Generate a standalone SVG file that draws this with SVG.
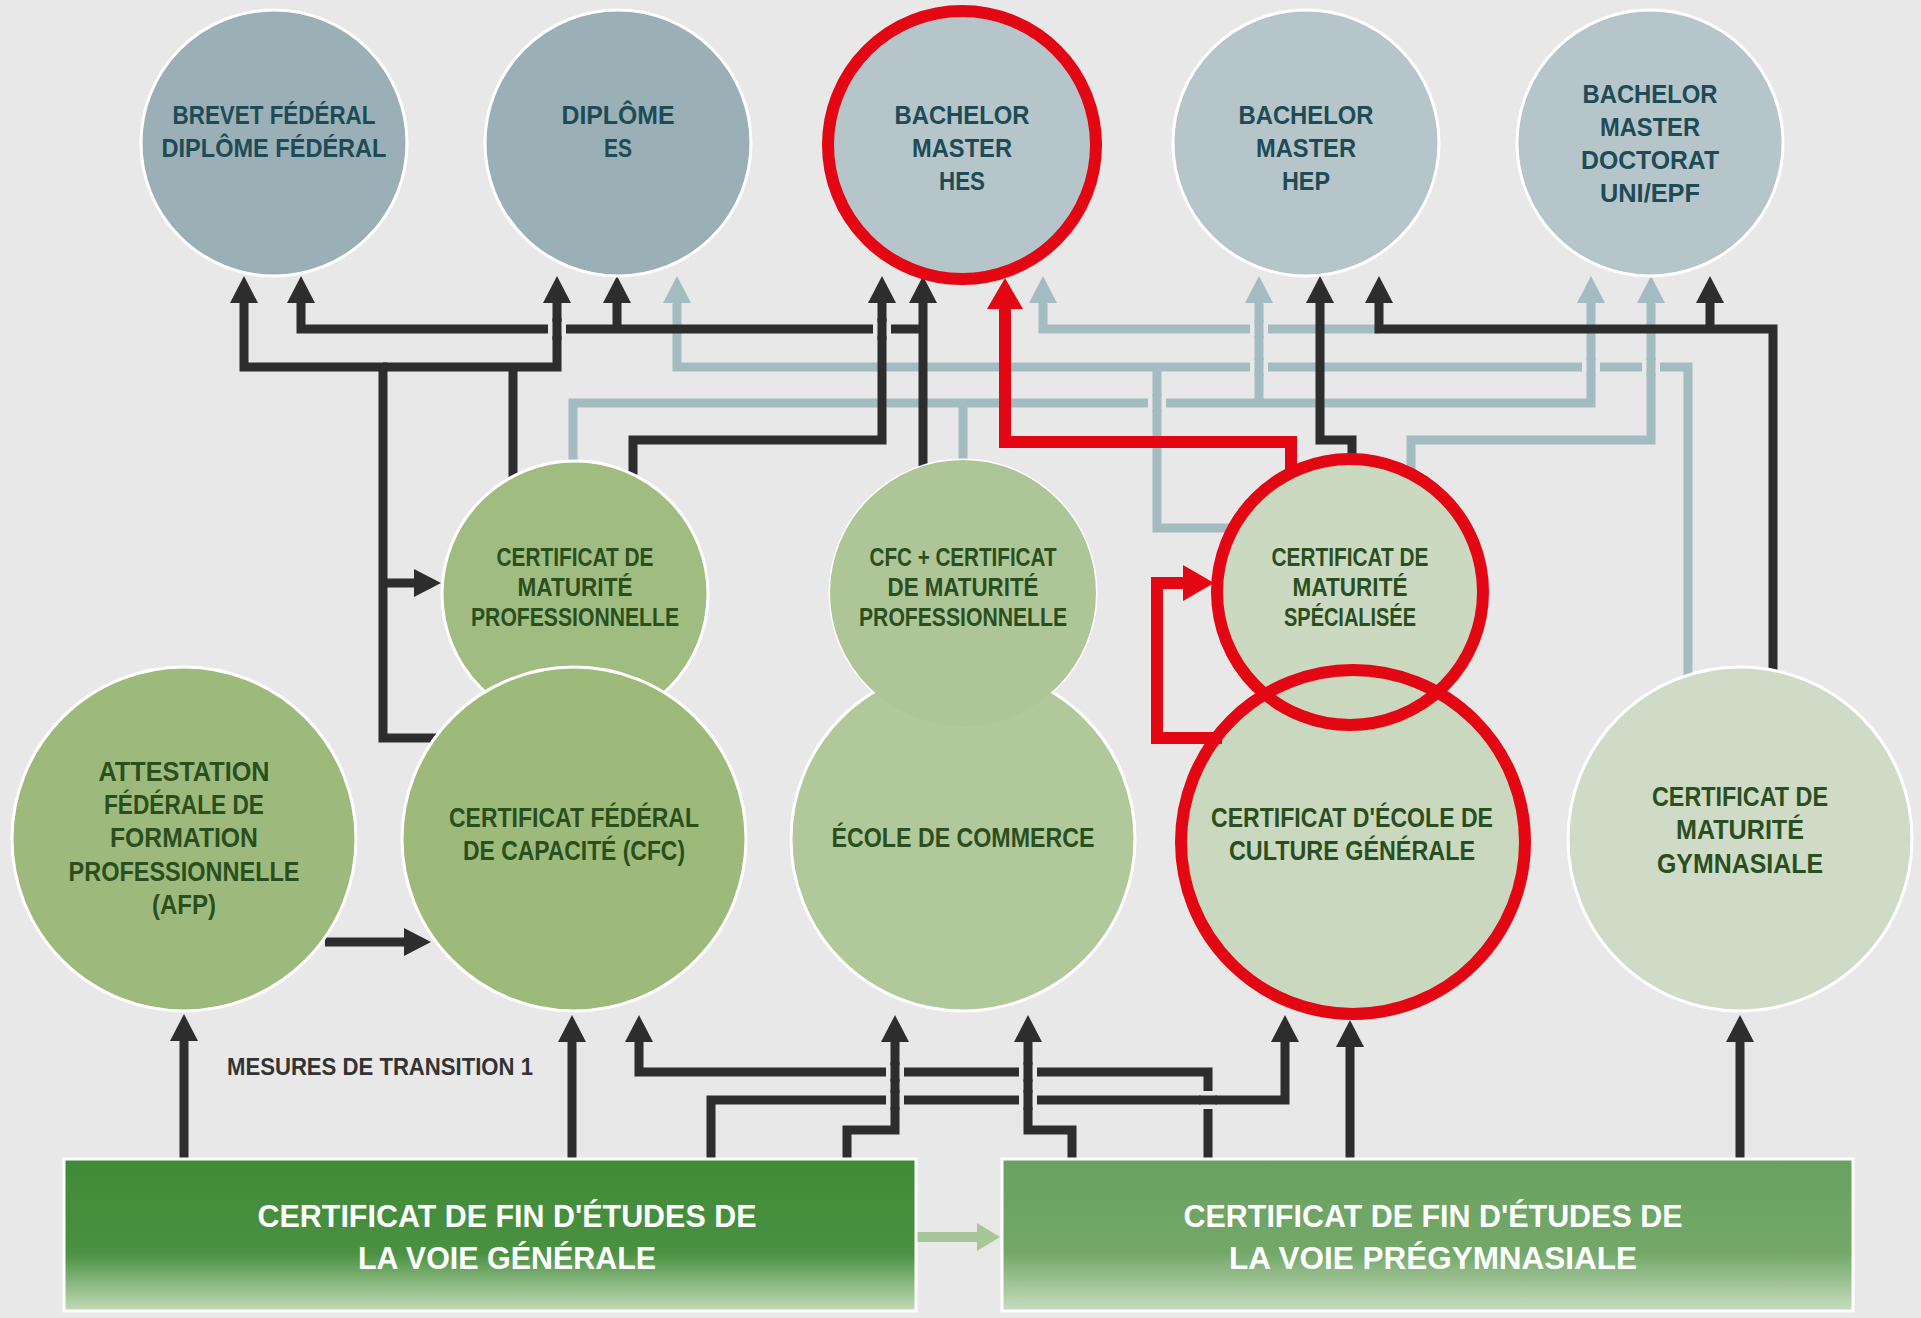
<svg xmlns="http://www.w3.org/2000/svg" width="1921" height="1318" viewBox="0 0 1921 1318">
<defs>
<style>
text{font-family:"Liberation Sans","Open Sans",sans-serif;font-weight:700;text-anchor:middle}
.tt{font-size:25px;fill:#1d4b56}
.tm{font-size:25px;fill:#2a4f1f}
.tl{font-size:27px;fill:#2a4f1f}
.tb{font-size:32px;fill:#ffffff}
.tx{font-size:23px;fill:#333333}
.dk{fill:none;stroke:#2d2d2d;stroke-width:9;stroke-linejoin:miter}
.dka{fill:none;stroke:#2d2d2d;stroke-width:9;marker-end:url(#ad)}
.lt{fill:none;stroke:#a3bcc2;stroke-width:9}
.lta{fill:none;stroke:#a3bcc2;stroke-width:9;marker-end:url(#al)}
.rd{fill:none;stroke:#e30613;stroke-width:12}
.rda{fill:none;stroke:#e30613;stroke-width:12;marker-end:url(#ar)}
.ring{fill:none;stroke:#e30613;stroke-width:12}
.bd{stroke:#ffffff;stroke-width:3}
.gap{fill:#e8e8e8}
</style>
<marker id="ad" markerUnits="userSpaceOnUse" viewBox="0 0 28 28" markerWidth="28" markerHeight="28" refX="0" refY="14" orient="auto"><path d="M0,0 L27,14 L0,28Z" fill="#2d2d2d"/></marker>
<marker id="al" markerUnits="userSpaceOnUse" viewBox="0 0 28 28" markerWidth="28" markerHeight="28" refX="0" refY="14" orient="auto"><path d="M0,0 L27,14 L0,28Z" fill="#a3bcc2"/></marker>
<marker id="ar" markerUnits="userSpaceOnUse" viewBox="0 0 31 36" markerWidth="31" markerHeight="36" refX="0" refY="18" orient="auto"><path d="M0,0 L31,18 L0,36Z" fill="#e30613"/></marker>
<marker id="ag" markerUnits="userSpaceOnUse" viewBox="0 0 24 28" markerWidth="24" markerHeight="28" refX="0" refY="14" orient="auto"><path d="M0,0 L23,14 L0,28Z" fill="#a9c69b"/></marker>
<linearGradient id="gL" x1="0" y1="0" x2="0" y2="1"><stop offset="0" stop-color="#3f8a37"/><stop offset="0.62" stop-color="#4a9141"/><stop offset="1" stop-color="#c3dbb9"/></linearGradient>
<linearGradient id="gR" x1="0" y1="0" x2="0" y2="1"><stop offset="0" stop-color="#6aa160"/><stop offset="0.62" stop-color="#73a868"/><stop offset="1" stop-color="#c8ddc0"/></linearGradient>
</defs>
<rect width="1921" height="1318" fill="#e8e8e8"/>

<g id="connectors">
<path class="lta" d="M1379 329 H1043 V303"/>
<path class="lta" d="M1688 690 V367 H677 V303"/>
<path class="lt" d="M1157 367 V528 H1240"/>
<path class="lta" d="M573 490 V403 H1591 V303"/>
<path class="lt" d="M963 475 V403"/>
<path class="lta" d="M1259 403 V303"/>
<path class="lta" d="M1411 480 V440 H1651 V303"/>
<rect class="gap" x="1250" y="322" width="18" height="14"/><path class="lt" d="M1259 338 V320"/>
<rect class="gap" x="1250" y="360" width="18" height="14"/><path class="lt" d="M1259 376 V358"/>
<rect class="gap" x="1148" y="396" width="18" height="14"/><path class="lt" d="M1157 394 V412"/>
<rect class="gap" x="1582" y="360" width="18" height="14"/><path class="lt" d="M1591 376 V358"/>
<rect class="gap" x="1642" y="360" width="18" height="14"/><path class="lt" d="M1651 376 V358"/>
<path class="dka" d="M923 480 V303"/>
<path class="dka" d="M923 329 H301 V303"/>
<path class="dka" d="M617 329 V303"/>
<path class="dka" d="M445 738 H383 V367 H244 V303"/>
<path class="dka" d="M383 367 H557 V303"/>
<path class="dka" d="M383 583 H414"/>
<path class="dk" d="M513 490 V367"/>
<path class="dka" d="M633 490 V440 H882 V303"/>
<path class="dka" d="M1352 470 V440 H1320 V303"/>
<path class="dka" d="M1773 690 V329 H1379 V303"/>
<path class="dka" d="M1710 329 V303"/>
<rect class="gap" x="548" y="322" width="18" height="14"/><path class="dk" d="M557 340 V318"/>
<rect class="gap" x="873" y="322" width="18" height="14"/><path class="dk" d="M882 340 V318"/>
<path class="dka" d="M184 1165 V1041"/>
<path class="dka" d="M572 1165 V1042"/>
<path class="dka" d="M1350 1165 V1047"/>
<path class="dka" d="M1740 1165 V1042"/>
<path class="dka" d="M1208 1165 V1072 H639 V1042"/>
<path class="dka" d="M711 1165 V1100 H1285 V1042"/>
<rect class="gap" x="1201" y="1091" width="14" height="18"/><path class="dk" d="M1199 1100 H1217"/>
<path class="dka" d="M847 1165 V1130 H895 V1042"/>
<path class="dka" d="M1072 1165 V1130 H1028 V1042"/>
<rect class="gap" x="886" y="1065" width="18" height="14"/><path class="dk" d="M895 1082 V1062"/>
<rect class="gap" x="886" y="1093" width="18" height="14"/><path class="dk" d="M895 1110 V1090"/>
<rect class="gap" x="1019" y="1065" width="18" height="14"/><path class="dk" d="M1028 1082 V1062"/>
<rect class="gap" x="1019" y="1093" width="18" height="14"/><path class="dk" d="M1028 1110 V1090"/>
<path class="dka" d="M325 942 H404"/>
<path d="M916 1237 H977" fill="none" stroke="#a9c69b" stroke-width="10" marker-end="url(#ag)"/>
</g>

<g id="n-brevet"><circle class="bd" cx="274" cy="143" r="133" fill="#9ab0b6"/>
<text class="tt" x="274" y="124" textLength="203" lengthAdjust="spacingAndGlyphs">BREVET FÉDÉRAL</text>
<text class="tt" x="274" y="157" textLength="225" lengthAdjust="spacingAndGlyphs">DIPLÔME FÉDÉRAL</text></g>
<g id="n-diplome-es"><circle class="bd" cx="618" cy="143" r="133" fill="#9ab0b6"/>
<text class="tt" x="618" y="124" textLength="113" lengthAdjust="spacingAndGlyphs">DIPLÔME</text>
<text class="tt" x="618" y="157" textLength="28" lengthAdjust="spacingAndGlyphs">ES</text></g>
<g id="n-hes"><circle class="bd" cx="962" cy="143" r="133" fill="#b6c5ca"/>
<text class="tt" x="962" y="124" textLength="135" lengthAdjust="spacingAndGlyphs">BACHELOR</text>
<text class="tt" x="962" y="157" textLength="100" lengthAdjust="spacingAndGlyphs">MASTER</text>
<text class="tt" x="962" y="190" textLength="46" lengthAdjust="spacingAndGlyphs">HES</text></g>
<g id="n-hep"><circle class="bd" cx="1306" cy="143" r="133" fill="#b6c5ca"/>
<text class="tt" x="1306" y="124" textLength="135" lengthAdjust="spacingAndGlyphs">BACHELOR</text>
<text class="tt" x="1306" y="157" textLength="100" lengthAdjust="spacingAndGlyphs">MASTER</text>
<text class="tt" x="1306" y="190" textLength="48" lengthAdjust="spacingAndGlyphs">HEP</text></g>
<g id="n-uni"><circle class="bd" cx="1650" cy="143" r="133" fill="#b6c5ca"/>
<text class="tt" x="1650" y="103" textLength="135" lengthAdjust="spacingAndGlyphs">BACHELOR</text>
<text class="tt" x="1650" y="136" textLength="100" lengthAdjust="spacingAndGlyphs">MASTER</text>
<text class="tt" x="1650" y="169" textLength="138" lengthAdjust="spacingAndGlyphs">DOCTORAT</text>
<text class="tt" x="1650" y="202" textLength="100" lengthAdjust="spacingAndGlyphs">UNI/EPF</text></g>

<g id="n-cmp"><circle class="bd" cx="575" cy="594" r="133" fill="#a1bc80"/>
<text class="tm" x="575" y="566" textLength="157" lengthAdjust="spacingAndGlyphs">CERTIFICAT DE</text>
<text class="tm" x="575" y="596" textLength="115" lengthAdjust="spacingAndGlyphs">MATURITÉ</text>
<text class="tm" x="575" y="626" textLength="208" lengthAdjust="spacingAndGlyphs">PROFESSIONNELLE</text></g>
<g id="n-afp"><circle class="bd" cx="184" cy="839" r="172" fill="#9dba7c"/>
<text class="tl" x="184" y="781" textLength="171" lengthAdjust="spacingAndGlyphs">ATTESTATION</text>
<text class="tl" x="184" y="814" textLength="160" lengthAdjust="spacingAndGlyphs">FÉDÉRALE DE</text>
<text class="tl" x="184" y="847" textLength="148" lengthAdjust="spacingAndGlyphs">FORMATION</text>
<text class="tl" x="184" y="881" textLength="231" lengthAdjust="spacingAndGlyphs">PROFESSIONNELLE</text>
<text class="tl" x="184" y="914" textLength="64" lengthAdjust="spacingAndGlyphs">(AFP)</text></g>
<g id="n-cfc"><circle class="bd" cx="574" cy="839" r="172" fill="#9dba7b"/>
<text class="tl" x="574" y="827" textLength="250" lengthAdjust="spacingAndGlyphs">CERTIFICAT FÉDÉRAL</text>
<text class="tl" x="574" y="860" textLength="222" lengthAdjust="spacingAndGlyphs">DE CAPACITÉ (CFC)</text></g>
<g id="n-cfc-cmp"><circle class="bd" cx="963" cy="593" r="133" fill="#aec597"/></g>
<g id="n-ecole"><circle class="bd" cx="963" cy="839" r="172" fill="#b1c89b"/>
<circle cx="963" cy="593" r="133" fill="#aec597"/>
<text class="tl" x="963" y="847" textLength="263" lengthAdjust="spacingAndGlyphs">ÉCOLE DE COMMERCE</text></g>
<g id="n-cfc-cmp-label">
<text class="tm" x="963" y="566" textLength="187" lengthAdjust="spacingAndGlyphs">CFC + CERTIFICAT</text>
<text class="tm" x="963" y="596" textLength="151" lengthAdjust="spacingAndGlyphs">DE MATURITÉ</text>
<text class="tm" x="963" y="626" textLength="208" lengthAdjust="spacingAndGlyphs">PROFESSIONNELLE</text></g>
<g id="n-cms"><circle cx="1350" cy="593" r="133" fill="#cbd9c1"/>
<text class="tm" x="1350" y="566" textLength="157" lengthAdjust="spacingAndGlyphs">CERTIFICAT DE</text>
<text class="tm" x="1350" y="596" textLength="115" lengthAdjust="spacingAndGlyphs">MATURITÉ</text>
<text class="tm" x="1350" y="626" textLength="132" lengthAdjust="spacingAndGlyphs">SPÉCIALISÉE</text></g>
<g id="n-ecg"><circle cx="1352" cy="841" r="172" fill="#cad8bf"/>
<text class="tl" x="1352" y="827" textLength="282" lengthAdjust="spacingAndGlyphs">CERTIFICAT D'ÉCOLE DE</text>
<text class="tl" x="1352" y="860" textLength="246" lengthAdjust="spacingAndGlyphs">CULTURE GÉNÉRALE</text></g>
<g id="n-gym"><circle class="bd" cx="1740" cy="839" r="172" fill="#cfdbc6"/>
<text class="tl" x="1740" y="806" textLength="176" lengthAdjust="spacingAndGlyphs">CERTIFICAT DE</text>
<text class="tl" x="1740" y="839" textLength="128" lengthAdjust="spacingAndGlyphs">MATURITÉ</text>
<text class="tl" x="1740" y="873" textLength="166" lengthAdjust="spacingAndGlyphs">GYMNASIALE</text></g>

<g id="n-voie-generale"><rect class="bd" x="64" y="1159" width="852" height="152" fill="url(#gL)"/>
<text class="tb" x="507" y="1227" textLength="499" lengthAdjust="spacingAndGlyphs">CERTIFICAT DE FIN D'ÉTUDES DE</text>
<text class="tb" x="507" y="1269" textLength="298" lengthAdjust="spacingAndGlyphs">LA VOIE GÉNÉRALE</text></g>
<g id="n-voie-pregym"><rect class="bd" x="1002" y="1159" width="851" height="152" fill="url(#gR)"/>
<text class="tb" x="1433" y="1227" textLength="499" lengthAdjust="spacingAndGlyphs">CERTIFICAT DE FIN D'ÉTUDES DE</text>
<text class="tb" x="1433" y="1269" textLength="408" lengthAdjust="spacingAndGlyphs">LA VOIE PRÉGYMNASIALE</text></g>

<g id="label-transition"><text class="tx" x="380" y="1075" textLength="306" lengthAdjust="spacingAndGlyphs">MESURES DE TRANSITION 1</text></g>

<g id="highlight">
<path class="rda" d="M1291 470 V442 H1005 V309"/>
<path class="rda" d="M1222 738 H1157 V583 H1183"/>
<circle class="ring" cx="962" cy="145" r="134"/>
<circle class="ring" cx="1350" cy="592" r="133"/>
<circle class="ring" cx="1353" cy="842" r="172"/>
</g>
</svg>
